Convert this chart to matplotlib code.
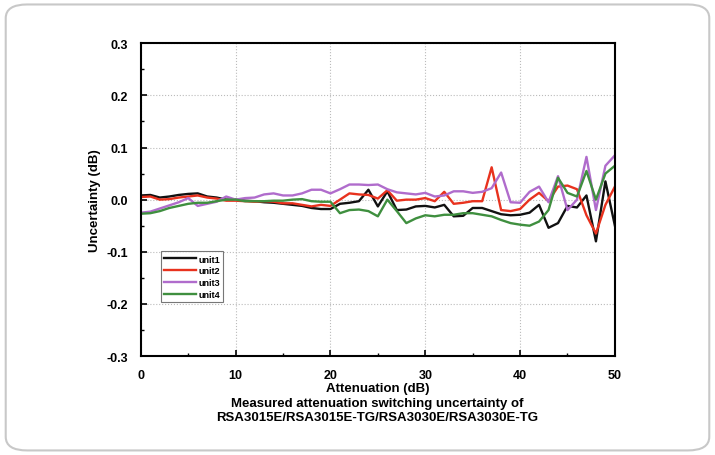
import numpy as np
import matplotlib
matplotlib.use('Agg')
import matplotlib.pyplot as plt
from matplotlib.patches import FancyBboxPatch
from matplotlib.ticker import MultipleLocator

# attenuation steps (dB)
atten = list(range(0, 51))

unit1 = [0.008, 0.009, 0.004, 0.006, 0.009, 0.011, 0.012, 0.006, 0.004, 0.000, 0.000,
         -0.002, -0.003, -0.005, -0.006, -0.008, -0.010, -0.012, -0.016, -0.018, -0.018,
         -0.008, -0.006, -0.003, 0.019, -0.013, 0.016, -0.020, -0.019, -0.013, -0.012,
         -0.015, -0.010, -0.032, -0.031, -0.016, -0.016, -0.022, -0.028, -0.030, -0.029,
         -0.025, -0.010, -0.054, -0.045, -0.012, -0.015, 0.008, -0.080, 0.035, -0.050]
unit2 = [0.005, 0.006, 0.000, 0.001, 0.004, 0.006, 0.008, 0.004, 0.002, -0.002, -0.002,
         -0.003, -0.004, -0.003, -0.004, -0.007, -0.007, -0.010, -0.013, -0.010, -0.012,
         0.000, 0.012, 0.010, 0.009, 0.002, 0.018, -0.002, 0.000, 0.000, 0.003,
         -0.003, 0.015, -0.008, -0.006, -0.003, -0.003, 0.062, -0.020, -0.022, -0.018,
         0.000, 0.013, -0.003, 0.025, 0.027, 0.020, -0.030, -0.065, -0.010, 0.025]
unit3 = [-0.025, -0.023, -0.017, -0.011, -0.005, 0.003, -0.012, -0.008, -0.004, 0.006, 0.000,
         0.003, 0.004, 0.010, 0.012, 0.008, 0.008, 0.012, 0.019, 0.019, 0.012,
         0.020, 0.029, 0.029, 0.028, 0.029, 0.020, 0.014, 0.012, 0.010, 0.013,
         0.006, 0.008, 0.016, 0.016, 0.013, 0.015, 0.022, 0.052, -0.005, -0.006,
         0.015, 0.025, -0.005, 0.045, -0.020, 0.000, 0.082, -0.020, 0.065, 0.085]
unit4 = [-0.027, -0.026, -0.022, -0.016, -0.012, -0.008, -0.006, -0.006, -0.003, 0.000, 0.000,
         -0.003, -0.003, -0.003, -0.002, -0.002, 0.000, 0.001, -0.003, -0.004, -0.004,
         -0.026, -0.020, -0.019, -0.022, -0.032, 0.000, -0.022, -0.045, -0.036, -0.030,
         -0.032, -0.029, -0.029, -0.026, -0.026, -0.029, -0.032, -0.039, -0.045, -0.048,
         -0.050, -0.042, -0.020, 0.042, 0.013, 0.006, 0.055, 0.000, 0.050, 0.065]

series = [unit1, unit2, unit3, unit4]
labels = ['unit1', 'unit2', 'unit3', 'unit4']
colors = ['#111111', '#e8321e', '#b06ccc', '#3f8f3f']

plt.rcParams['font.family'] = 'Liberation Sans'
plt.rcParams['font.weight'] = 'bold'

fig = plt.figure(figsize=(7.15, 4.56), dpi=100)

# rounded frame around the whole picture
frame = FancyBboxPatch((0.008, 0.01), 0.984, 0.978, boxstyle='round,pad=0,rounding_size=0.03',
                       transform=fig.transFigure, facecolor='none', edgecolor='#c8c8c8',
                       linewidth=1.5, zorder=-1)
fig.patches.append(frame)

ax = fig.add_axes([0.197, 0.217, 0.663, 0.686])
ax.set_facecolor('white')

for ys, lab, c in zip(series, labels, colors):
    ax.plot(atten, ys, color=c, linewidth=1.7, label=lab)

ax.set_xlim(0, 50)
ax.set_ylim(-0.3, 0.3)
ax.xaxis.set_major_locator(MultipleLocator(10))
ax.xaxis.set_minor_locator(MultipleLocator(5))
ax.yaxis.set_major_locator(MultipleLocator(0.1))
ax.yaxis.set_minor_locator(MultipleLocator(0.05))
ax.yaxis.set_major_formatter(plt.FuncFormatter(lambda v, p: '{:.1f}'.format(v)))
ax.tick_params(which='major', direction='in', length=4, width=1.2, labelsize=9)
ax.tick_params(axis='x', which='major', pad=9)
ax.tick_params(axis='y', which='major', pad=9)
ax.tick_params(which='minor', direction='in', length=2, width=1.0)
for s in ax.spines.values():
    s.set_linewidth(1.5)
ax.grid(True, which='major', linestyle=':', color='#bbbbbb', linewidth=0.8)

ax.set_xlabel('Attenuation (dB)', fontsize=9.5, fontweight='bold', labelpad=1)
ax.set_ylabel('Uncertainty (dB)', fontsize=9.5, fontweight='bold', labelpad=4)

fig.text(0.527, 0.099, 'Measured attenuation switching uncertainty of\nRSA3015E/RSA3015E-TG/RSA3030E/RSA3030E-TG',
         ha='center', va='center', fontsize=9.5, fontweight='bold', linespacing=1.3)

leg = ax.legend(loc='lower left', bbox_to_anchor=(0.042, 0.173), fontsize=6.5, frameon=True,
                fancybox=False, edgecolor='#555555', handlelength=3.5, handletextpad=0.3,
                borderpad=0.35, labelspacing=0.3, borderaxespad=0)
leg.get_frame().set_linewidth(0.8)

fig.savefig('out.png', dpi=100)
